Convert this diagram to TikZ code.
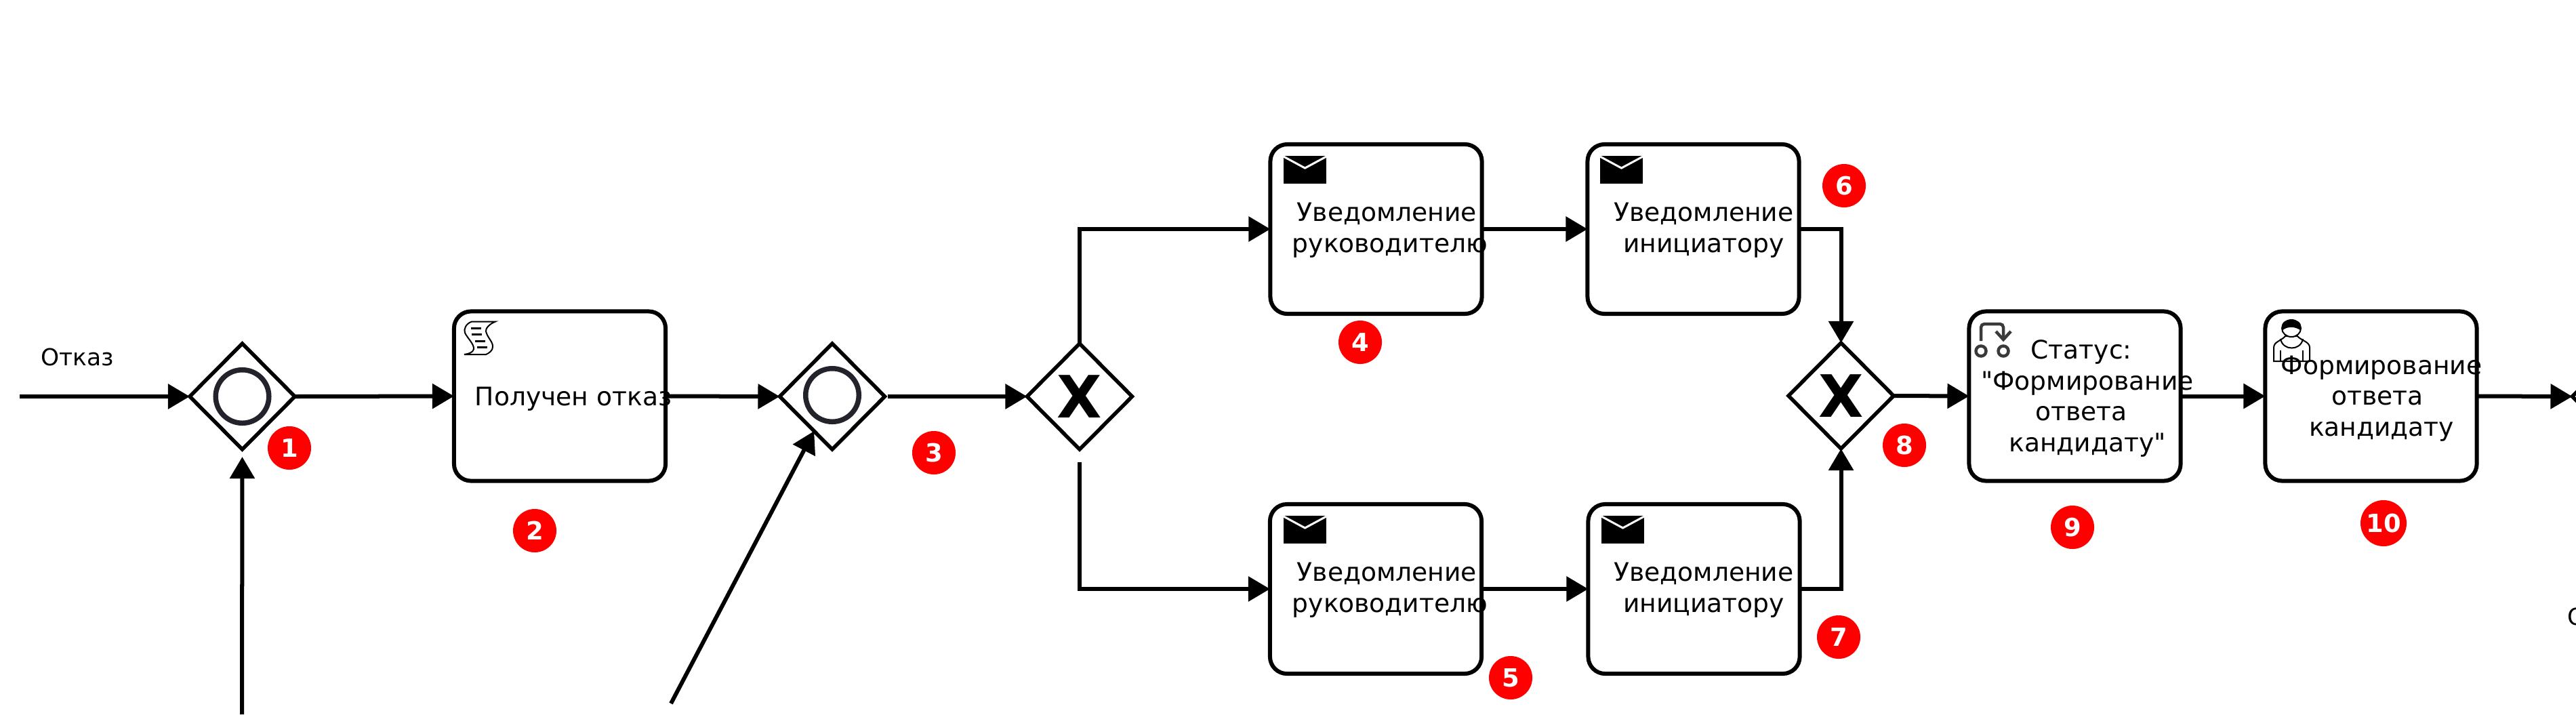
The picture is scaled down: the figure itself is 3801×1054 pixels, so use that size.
\documentclass[tikz,border=0pt]{standalone}
\usepackage{fontspec}
\setmainfont{DejaVu Sans}[Ligatures=TeXOff]
\usetikzlibrary{arrows.meta}
\usetikzlibrary{shapes.geometric}
\definecolor{ringgray}{HTML}{23232B}
\definecolor{loopgray}{HTML}{3A3A3A}
\tikzset{
  task/.style={draw,fill=white,line width=0.06cm,rounded corners=0.25cm,outer sep=0pt,
               minimum width=3.12cm,minimum height=2.5cm},
  gateway/.style={diamond,draw,fill=white,line width=0.055cm,inner sep=0pt,outer sep=0pt,
                  minimum width=1.55cm,minimum height=1.56cm},
  xorgate/.style={gateway,font=\fontsize{24.5}{25}\selectfont\bfseries},
  ring/.style={circle,draw=ringgray,line width=0.075cm,minimum size=0.785cm,inner sep=0pt},
  flow/.style={line width=0.06cm,-{Triangle[length=0.32cm,width=0.36cm]}},
  tasklabel/.style={align=center,inner sep=0pt,font=\fontsize{10.7}{13}\selectfont},
  flowlabel/.style={inner sep=0pt,font=\fontsize{9.8}{12}\selectfont},
  badge/.style={circle,fill=red,text=white,inner sep=0pt,minimum size=0.64cm,
                font=\fontsize{10.5}{12}\selectfont\bfseries}
}
\newcommand{\mailicon}[1]{%
  \begin{scope}[shift={(#1)}]
    \fill (0,0) rectangle (63,41);
    \draw[white,line width=0.03cm] (0,1) -- (31.5,18) -- (63,1);
  \end{scope}}
\newcommand{\scripticon}[1]{%
  \begin{scope}[shift={(#1)}]
    \draw[fill=white,line width=0.02cm] (26,14.5) -- (61,14.5)
      .. controls (52,18) and (46,25) .. (47,29)
      .. controls (49,38) and (58,45) .. (57,52)
      .. controls (57,57) and (52,61) .. (47,63) -- (15,63)
      .. controls (22,62) and (28,60) .. (29,55)
      .. controls (30,48) and (19,38) .. (16,31)
      .. controls (14,26) and (17,18) .. (26,14.5) -- cycle;
    \draw[line width=0.03cm] (25,24) -- (40,24) (26,33) -- (41,33)
                             (31,43) -- (46,43) (34,52) -- (49,52);
  \end{scope}}
\newcommand{\loopicon}[1]{%
  \begin{scope}[shift={(#1)},draw=loopgray,line width=0.045cm]
    \draw[rounded corners=0.05cm] (18,43) -- (18,18) -- (51,18) -- (51,40);
    \draw (40,29) -- (51,41) -- (62,29);
    \draw (18,58) circle (7.5);
    \draw (51,58) circle (7.5);
  \end{scope}}
\newcommand{\usericon}[1]{%
  \begin{scope}[shift={(#1)}]
    \draw[fill=white,line width=0.02cm] (15,78) -- (15,58)
      .. controls (15,49) and (26,48) .. (32,41) -- (50,41)
      .. controls (56,48) and (68,49) .. (68,58) -- (68,78) -- cycle;
    \draw[line width=0.02cm] (25,45) .. controls (28,63) and (55,63) .. (58,45);
    \draw[line width=0.02cm] (25,62) -- (25,78) (58,62) -- (58,78);
    \draw[fill=white,line width=0.02cm] (41,29.5) ellipse (14 and 12.5);
    \fill (28,32) .. controls (24,20) and (33,17) .. (41,17)
      .. controls (50,17) and (58,21) .. (54,32)
      .. controls (48,28) and (38,25) .. (28,32) -- cycle;
  \end{scope}}

\begin{document}
\begin{tikzpicture}[x=0.01cm,y=-0.01cm]
  \clip (0,0) rectangle (3801,1054);
  % events and gateways
  \node[gateway] (gwfirst) at (357.5,585) {};
  \node[ring] (ringfirst) at (gwfirst) {};
  \node[gateway] (gwsecond) at (1228,585) {};
  \node[ring] (ringsecond) at (1228,583) {};
  \node[xorgate] (xorsplit) at (1593,585) {X};
  \node[xorgate] (xorjoin) at (2716.5,584) {X};
  \node[gateway] (gwlast) at (3873,585) {};
  % tasks
  \node[task] (taskrefusal) at (826,584.5) {};
  \node[task] (taskheadup) at (2030.5,338) {};
  \node[task] (taskinitup) at (2498.5,338) {};
  \node[task] (taskheaddown) at (2030,869) {};
  \node[task] (taskinitdown) at (2499.5,869) {};
  \node[task] (taskstatus) at (3061.5,584.5) {};
  \node[task] (taskanswer) at (3498.5,584.5) {};
  % free ends
  \coordinate (instart) at (29,585);
  \coordinate (loopfirst) at (357,1054);
  \coordinate (loopsecond) at (990,1038);
  \coordinate (xorlow) at (1592.5,682);
  % flows
  \draw[flow] (instart) -- (gwfirst.west);
  \draw[flow] (gwfirst.east) -- (taskrefusal.west);
  \draw[flow] (taskrefusal.east) -- (gwsecond.west);
  \draw[flow,shorten <=0.04cm] (gwsecond.east) -- (xorsplit.west);
  \draw[flow,shorten >=0.11cm] (loopfirst) -- (gwfirst.south);
  \draw[flow] (loopsecond) -- (gwsecond);
  \draw[flow] (xorsplit.north) |- (taskheadup.west);
  \draw[flow] (xorlow) |- (taskheaddown.west);
  \draw[flow] (taskheadup.east) -- (taskinitup.west);
  \draw[flow] (taskheaddown.east) -- (taskinitdown.west);
  \draw[flow] (taskinitup.east) -| (xorjoin.north);
  \draw[flow] (taskinitdown.east) -| (xorjoin.south);
  \draw[flow] (xorjoin.east) -- (taskstatus.west);
  \draw[flow] (taskstatus.east) -- (taskanswer.west);
  \draw[flow] (taskanswer.east) -- (gwlast.west);
  % icons
  \scripticon{670,460}
  \mailicon{1894,230}
  \mailicon{2361,230}
  \mailicon{1894,761}
  \mailicon{2363,761}
  \loopicon{2905,460}
  \usericon{3340,455}
  % texts
  \node[flowlabel,anchor=base] (lblrefusal) at (114,539) {Отказ};
  \node[flowlabel,anchor=west] (lbllast) at (3788,910) {О};
  \node[tasklabel,anchor=base] (txtrefusal) at (846,598) {Получен отказ};
  \node[tasklabel] (txtheadup) at (2046.5,340) {Уведомление\\\hspace*{0.09cm}руководителю};
  \node[tasklabel] (txtinitup) at (2514,340) {Уведомление\\инициатору};
  \node[tasklabel] (txtheaddown) at (2046.5,871) {Уведомление\\\hspace*{0.09cm}руководителю};
  \node[tasklabel] (txtinitdown) at (2514,871) {Уведомление\\инициатору};
  \node[tasklabel] (txtstatus) at (3071,588) {Статус:\\\hspace*{0.18cm}"Формирование\\ответа\\\hspace*{0.18cm}кандидату"};
  \node[tasklabel] (txtanswer) at (3508,588) {\hspace*{0.12cm}Формирование\\ответа\\\hspace*{0.12cm}кандидату};
  % badges
  \node[badge] (bone) at (427,661) {1};
  \node[badge] (btwo) at (789,783) {2};
  \node[badge] (bthree) at (1378,668) {3};
  \node[badge] (bfour) at (2007,505) {4};
  \node[badge] (bfive) at (2229,1000) {5};
  \node[badge] (bsix) at (2721,274) {6};
  \node[badge] (bseven) at (2713,940) {7};
  \node[badge] (beight) at (2810,657) {8};
  \node[badge] (bnine) at (3058,778) {9};
  \node[badge,minimum size=0.68cm] (bten) at (3517,772) {10};
\end{tikzpicture}
\end{document}
